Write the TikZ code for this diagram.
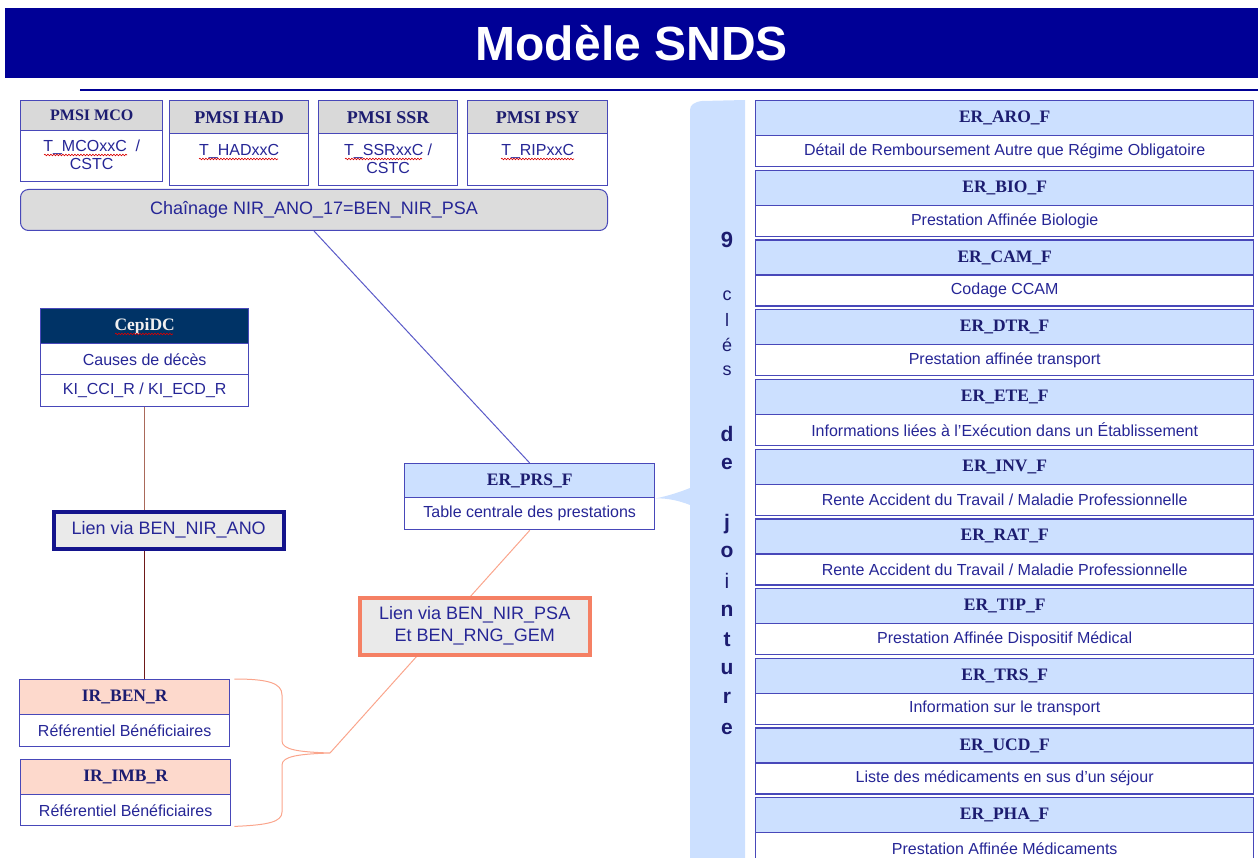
\documentclass[tikz,border=0pt]{standalone}
\usepackage{fontspec}
\setmainfont{Liberation Serif}
\setsansfont{Liberation Sans}
\usetikzlibrary{decorations.pathmorphing,backgrounds}
\definecolor{banner}{RGB}{0,0,150}
\definecolor{navy}{RGB}{28,28,112}
\definecolor{txt}{RGB}{38,38,150}
\definecolor{bord}{RGB}{72,72,185}
\definecolor{hgray}{RGB}{217,217,217}
\definecolor{lblue}{RGB}{204,224,255}
\definecolor{salm}{RGB}{253,217,204}
\definecolor{coral}{RGB}{245,128,100}
\definecolor{lcoral}{RGB}{250,165,140}
\definecolor{cepi}{RGB}{0,51,102}
\definecolor{brownA}{RGB}{170,105,90}
\definecolor{brownB}{RGB}{110,25,25}
\definecolor{chainfill}{RGB}{220,220,220}
\definecolor{liengray}{RGB}{234,234,234}
\definecolor{lnavy}{RGB}{20,20,140}
\definecolor{lineblue}{RGB}{90,90,200}
\newcommand\sls{/}
\tikzset{
 cell/.style={draw=bord, line width=1.4pt, rectangle, inner sep=0pt, anchor=north west},
 hdr/.style={cell, font=\bfseries\fontsize{17.5}{19}\selectfont, text=navy},
 bod/.style={cell, fill=white, font=\sffamily\fontsize{16}{19}\selectfont, text=txt},
 btxt/.style={inner sep=0pt, anchor=north, align=center, font=\sffamily\fontsize{16}{18}\selectfont, text=txt},
 lienbox/.style={line width=3.5pt, fill=liengray, anchor=north west, inner sep=0pt, align=center, font=\sffamily\fontsize{18}{22}\selectfont, text=txt},
 squig/.style={draw=red!85!black, line width=0.6pt, decorate, decoration={snake, amplitude=0.8pt, segment length=3pt}},
 vlet/.style={inner sep=0pt, text=navy},
}
\begin{document}
\begin{tikzpicture}[x=1pt,y=-1pt]
\useasboundingbox (0,0) rectangle (1258,858);
\clip (0,0) rectangle (1258,858);

% title
\node[fill=banner, minimum width=1253pt, minimum height=70pt, anchor=north west, inner sep=0pt,
      text=white, font=\sffamily\bfseries\fontsize{48}{50}\selectfont] (title) at (5,8) {Modèle SNDS};
\draw[banner, line width=1.6pt] (80,90) -- (1258,90);

% PMSI boxes
\node[hdr, fill=hgray, minimum width=142pt, minimum height=30pt, font=\bfseries\fontsize{16}{18}\selectfont] (mcoH) at (20,100) {PMSI MCO};
\node[bod, minimum width=142pt, minimum height=51pt] (mcoB) at (20,130) {};
\node[btxt] (mcoT) at ([yshift=-10pt]mcoB.north) {T\_MCOxxC \ /\\CSTC};

\node[hdr, fill=hgray, minimum width=139pt, minimum height=33pt, font=\bfseries\fontsize{18}{20}\selectfont] (hadH) at (169,100) {PMSI HAD};
\node[bod, minimum width=139pt, minimum height=52pt] (hadB) at (169,133) {};
\node[btxt] (hadT) at ([yshift=-11pt]hadB.north) {T\_HADxxC};

\node[hdr, fill=hgray, minimum width=139pt, minimum height=33pt, font=\bfseries\fontsize{18}{20}\selectfont] (ssrH) at (318,100) {PMSI SSR};
\node[bod, minimum width=139pt, minimum height=52pt] (ssrB) at (318,133) {};
\node[btxt] (ssrT) at ([yshift=-11pt]ssrB.north) {T\_SSRxxC /\\CSTC};

\node[hdr, fill=hgray, minimum width=140pt, minimum height=33pt, font=\bfseries\fontsize{18}{20}\selectfont] (psyH) at (467,100) {PMSI PSY};
\node[bod, minimum width=140pt, minimum height=52pt] (psyB) at (467,133) {};
\node[btxt] (psyT) at ([yshift=-11pt]psyB.north) {T\_RIPxxC};

\draw[squig] (44,155) -- (127,155);
\draw[squig] (199,159) -- (278,159);
\draw[squig] (345,159) -- (422,159);
\draw[squig] (501,159) -- (574,159);

% chaining box
\node[draw=bord, line width=1pt, fill=chainfill, rounded corners=8pt, minimum width=587pt, minimum height=41pt,
      anchor=north west, inner sep=0pt, font=\sffamily\fontsize{18}{20}\selectfont, text=txt] (chain) at (20,189)
      {Chaînage NIR\_ANO\_17=BEN\_NIR\_PSA};

% CepiDC
\node[hdr, fill=cepi, minimum width=208pt, minimum height=35pt, text=white!88!gray] (cepiH) at (40,308) {CepiDC};
\node[bod, minimum width=208pt, minimum height=31pt] (cepiC) at (40,343) {Causes de décès};
\node[bod, minimum width=208pt, minimum height=32pt] (cepiK) at (40,374) {KI\_CCI\_R / KI\_ECD\_R};
\draw[squig] (115,334) -- (173,334);

% Lien ANO
\node[lienbox, draw=lnavy, minimum width=230pt, minimum height=37pt] (lienA) at (52,510) {Lien via BEN\_NIR\_ANO};

% ER_PRS_F
\node[hdr, fill=lblue, minimum width=250pt, minimum height=34pt] (prsH) at (404,463) {ER\_PRS\_F};
\node[bod, minimum width=250pt, minimum height=32pt] (prsB) at (404,497) {Table centrale des prestations};

% Lien PSA
\node[lienbox, draw=coral, minimum width=230pt, minimum height=57pt] (lienP) at (358,596) {Lien via BEN\_NIR\_PSA\\Et BEN\_RNG\_GEM};

% IR tables
\node[hdr, fill=salm, minimum width=210pt, minimum height=35pt] (benH) at (19,679) {IR\_BEN\_R};
\node[bod, minimum width=210pt, minimum height=32pt] (benB) at (19,714) {Référentiel Bénéficiaires};
\node[hdr, fill=salm, minimum width=210pt, minimum height=35pt] (imbH) at (20,759) {IR\_IMB\_R};
\node[bod, minimum width=210pt, minimum height=31pt] (imbB) at (20,794) {Référentiel Bénéficiaires};

% right tables
\foreach \i/\nm/\desc in {
 0/ER\_ARO\_F/Détail de Remboursement Autre que Régime Obligatoire,
 1/ER\_BIO\_F/Prestation Affinée Biologie,
 2/ER\_CAM\_F/Codage CCAM,
 3/ER\_DTR\_F/Prestation affinée transport,
 4/ER\_ETE\_F/Informations liées à l’Exécution dans un Établissement,
 5/ER\_INV\_F/Rente Accident du Travail \sls\ Maladie Professionnelle,
 6/ER\_RAT\_F/Rente Accident du Travail \sls\ Maladie Professionnelle,
 7/ER\_TIP\_F/Prestation Affinée Dispositif Médical,
 8/ER\_TRS\_F/Information sur le transport,
 9/ER\_UCD\_F/Liste des médicaments en sus d’un séjour,
 10/ER\_PHA\_F/Prestation Affinée Médicaments}{
  \node[hdr, fill=lblue, minimum width=498pt, minimum height=35pt] (tH\i) at (755,{100+69.7*\i}) {\nm};
  \node[bod, minimum width=498pt, minimum height=31pt] (tB\i) at (755,{135+69.7*\i}) {\desc};
}

% vertical label
\foreach \ch/\yy/\fs/\fw [count=\k] in {9/240/22/\bfseries, c/296/18/\mdseries, l/320/18/\mdseries, é/345/18/\mdseries, s/371/18/\mdseries,
  d/434/21/\bfseries, e/464/21/\bfseries, j/524/21/\bfseries, o/552/21/\bfseries, i/581/21/\mdseries, n/611/21/\bfseries,
  t/640/21/\bfseries, u/669/21/\bfseries, r/698/21/\bfseries, e/729/21/\bfseries}{
  \node[vlet, font=\sffamily\fw\fontsize{\fs}{\fs}\selectfont] (v\k) at (727,\yy) {\ch};
}

\begin{scope}[on background layer]
  % callout band
  \coordinate (tip) at (prsH.south east);
  \fill[lblue] (745,100) -- (702,101) .. controls (694,102) and (690,105) .. (690,110)
     -- (690,488) .. controls (680,492) and (668,496) .. (tip)
     .. controls (668,498) and (680,501) .. (690,505) -- (690,870) -- (745,870) -- cycle;
  % connectors
  \draw[lineblue, line width=1pt] (chain.south) -- (prsH.north);
  \draw[brownA, line width=1.3pt] (cepiK.south) -- (cepiK.south |- lienA.north);
  \draw[brownB, line width=1.2pt] (cepiK.south |- lienA.south) -- (cepiK.south |- benH.north);
  \coordinate (btip) at (330,753);
  \draw[lcoral, line width=1pt] (btip) -- (prsB.south);
  \draw[lcoral, line width=1pt] ([xshift=4pt]benH.north east) .. controls (268,679) and (282,683) .. (282,695)
     -- (282,741) .. controls (282,750) and (300,752) .. (btip)
     .. controls (300,754) and (282,756) .. (282,765)
     -- (282,812) .. controls (282,822) and (268,825) .. ([xshift=3pt]imbB.south east);
\end{scope}
\end{tikzpicture}
\end{document}
